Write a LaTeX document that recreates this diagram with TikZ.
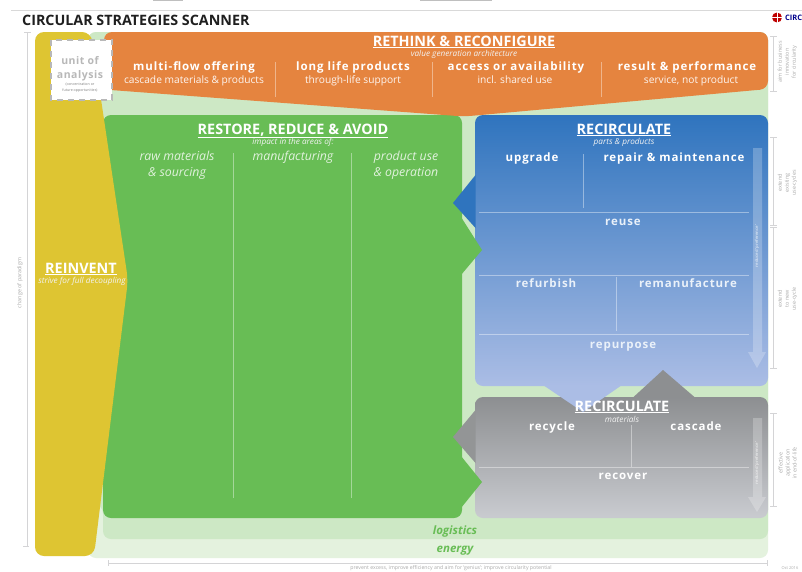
\documentclass[tikz,border=0pt]{standalone}
\usepackage{fontspec}
\setmainfont{Open Sans}
\newfontfamily\wideb[LetterSpace=8]{Open Sans}
\newfontfamily\unitb[LetterSpace=5]{Open Sans}
\usetikzlibrary{calc}
\definecolor{bgmid}{HTML}{CDE8C5}
\definecolor{bglow}{HTML}{E4F2DE}
\definecolor{yel}{HTML}{DEC532}
\definecolor{ora}{HTML}{E5843F}
\definecolor{grn}{HTML}{68BD55}
\definecolor{blutop}{HTML}{2F74BE}
\definecolor{blubot}{HTML}{ABBDE5}
\definecolor{grytop}{HTML}{8D8F91}
\definecolor{grybot}{HTML}{C9CBD0}
\definecolor{fine}{HTML}{AAAAAA}
\definecolor{rule}{HTML}{D4D4D6}
\tikzset{
  x=1pt,y=-1pt,
  txt/.style={anchor=base,inner sep=0pt,outer sep=0pt,text=white,align=center},
  head/.style={txt,font=\bfseries\fontsize{14.4}{15}\selectfont},
  item/.style={txt,font=\wideb\bfseries\fontsize{11.5}{12}\selectfont},
  sub/.style={txt,font=\fontsize{10.2}{11}\selectfont,text=white!92!ora},
  tiny/.style={txt,font=\itshape\fontsize{8.2}{9}\selectfont,text=white!90!gray},
  area/.style={txt,font=\itshape\fontsize{12.3}{13}\selectfont,text=white!80!grn},
  sep/.style={draw=white,opacity=.4,line width=.7pt},
  note/.style={anchor=center,inner sep=0pt,align=center,text=fine,font=\fontsize{5.4}{7}\selectfont,rotate=90},
  brk/.style={draw=rule,line width=1pt},
  flow/.style={fill=white,fill opacity=.24},
  flowtxt/.style={anchor=center,inner sep=0pt,text=white,opacity=.55,font=\bfseries\fontsize{4.2}{5}\selectfont,rotate=90},
  utext/.style={txt,text=black!28,font=\unitb\bfseries\fontsize{10.5}{12}\selectfont},
  belt/.style={txt,text=grn,font=\bfseries\itshape\fontsize{11.5}{12}\selectfont},
}
\begin{document}
\begin{tikzpicture}
\useasboundingbox (0,0) rectangle (802,571);
\fill[white] (0,0) rectangle (802,571);
% header remnants
\draw[black!15,line width=.7pt] (11,10.3) -- (802,10.3);
\fill[black!25] (153,0) rectangle (183,1);
\fill[black!25] (420,0) rectangle (492,1);
\node[anchor=base west,inner sep=0pt,text=black!88,font=\bfseries\fontsize{14.3}{14}\selectfont] (title) at (22,25) {CIRCULAR STRATEGIES SCANNER};
% logo
\fill[red!75!black] (777,17.5) circle (5);
\foreach \a in {0,90,180,270}{\draw[white,line width=.7pt] (777,17.5) -- ++(\a:5.5);}
\node[anchor=base west,inner sep=0pt,text=blue!55!black,font=\bfseries\fontsize{7.5}{8}\selectfont] (logo) at (785,20) {CIRC};
% background strips
\fill[bglow,rounded corners=8] (88,32) rectangle (768,558);
\fill[bgmid,rounded corners=8] (88,32) -- (768,32) -- (768,539) -- (103,539) -- (103,505) -- (88,505) -- cycle;
% green main
\fill[grn,rounded corners=8] (103,115) rectangle (462,518);
% reinvent
\fill[yel,rounded corners=9] (35,32) -- (91,32) -- (116,200) -- (128,280) -- (94,556) -- (35,556) -- cycle;
% gray box
\shade[top color=grytop,bottom color=grybot,rounded corners=8] (475,397) -- (768,397) -- (768,518) -- (475,518) -- (475,463) -- (475,410) -- cycle;
\fill[grytop!95!white] (475.5,410) -- (453,437) -- (475.5,463) -- cycle;
% blue
\shade[top color=blutop,bottom color=blubot,rounded corners=8] (475,115) rectangle (768,386);
\fill[blutop] (475.5,175) -- (453,203) -- (475.5,228) -- cycle;
\fill[blubot] (543,385) -- (583,412) -- (622,385) -- cycle;
\fill[grytop] (633,397.5) -- (663,370) -- (695,397.5) -- cycle;
% green chevrons
\fill[grn] (461,217) -- (482,250) -- (461,275) -- cycle;
\fill[grn] (461,456) -- (482,482) -- (461,508) -- cycle;
% orange
\fill[ora,rounded corners=8] (104,32) -- (768,32) -- (768,89) -- (464,116.5) -- (104,89.5) -- cycle;
% flow arrows
\fill[flow] (753,148) -- (762,148) -- (762,352) -- (766,352) -- (757,368) -- (748,352) -- (753,352) -- cycle;
\fill[flow] (753,418) -- (762,418) -- (762,497) -- (766,497) -- (757,512) -- (748,497) -- (753,497) -- cycle;
\node[flowtxt] (pref1) at (757,246) {reduced `preference'};
\node[flowtxt] (pref2) at (757,463) {reduced `preference'};
% separators
\draw[sep] (275,62) -- (275,97);
\draw[sep] (432,62) -- (432,97);
\draw[sep] (601,62) -- (601,97);
\draw[sep] (233,153) -- (233,498);
\draw[sep] (351,153) -- (351,498);
\draw[sep] (583,154) -- (583,208);
\draw[sep] (479,212) -- (749,212);
\draw[sep] (479,275) -- (749,275);
\draw[sep] (616,277) -- (616,331);
\draw[sep] (479,334) -- (749,334);
\draw[sep] (631,425) -- (631,467);
\draw[sep] (479,467) -- (749,467);
% rethink
\node[head] (rethink) at (464,46) {\underline{RETHINK \& RECONFIGURE}};
\node[tiny] (valgen) at (464,56) {value generation architecture};
\node[item] (i1) at (194,70) {multi-flow offering};
\node[sub] (s1) at (194,83) {cascade materials \& products};
\node[item] (i2) at (353,70) {long life products};
\node[sub] (s2) at (353,83) {through-life support};
\node[item] (i3) at (516,70) {access or availability};
\node[sub] (s3) at (515,83) {incl. shared use};
\node[item] (i4) at (687,70) {result \& performance};
\node[sub] (s4) at (691,83) {service, not product};
% restore
\node[head] (restore) at (293,134) {\underline{RESTORE, REDUCE \& AVOID}};
\node[tiny] (impact) at (293,144) {impact in the areas of:};
\node[area] (a1) at (177,160) {raw materials};
\node[area] (a1b) at (177,176) {\& sourcing};
\node[area] (a2) at (293,160) {manufacturing};
\node[area] (a3) at (406,160) {product use};
\node[area] (a3b) at (406,176) {\& operation};
% reinvent
\node[head] (reinvent) at (81,273) {\underline{REINVENT}};
\node[tiny] (strive) at (82,283) {strive for full decoupling};
% recirculate parts
\node[head] (rec1) at (624,134) {\underline{RECIRCULATE}};
\node[tiny] (parts) at (624,144) {parts \& products};
\node[item] (upgrade) at (532,161) {upgrade};
\node[item] (repair) at (674,161) {repair \& maintenance};
\node[item,text=white!90!blutop] (reuse) at (623,225) {reuse};
\node[item,text=white!90!blutop] (refurb) at (546,287) {refurbish};
\node[item,text=white!90!blutop] (reman) at (688,287) {remanufacture};
\node[item,text=white!90!blutop] (repurp) at (623,348) {repurpose};
% recirculate materials
\node[head] (rec2) at (622,411) {\underline{RECIRCULATE}};
\node[tiny] (mat) at (622,422) {materials};
\node[item] (recyc) at (552,430) {recycle};
\node[item] (casc) at (696,430) {cascade};
\node[item] (recov) at (623,479) {recover};
% belts
\node[belt] (logi) at (455,534) {logistics};
\node[belt] (ener) at (455,552) {energy};
% brackets
\draw[brk] (27,32) -- (27,546);
\draw[brk] (24,32) -- (31,32);
\draw[brk] (23,546) -- (29,546);
\draw[brk] (108,563) -- (767,563);
\draw[brk] (108,560) -- (108,566);
\draw[brk] (767,560) -- (767,566);
\foreach \ya/\yb in {36/91,137/225,227/368,413/506}{
  \draw[brk] (773,\ya) -- (773,\yb);
  \draw[brk] (770,\ya) -- (777,\ya);
  \draw[brk] (770,\yb) -- (777,\yb);
}
\node[note] (n1) at (787.5,62) {aim for business\\innovation\\for circularity};
\node[note] (n2) at (787.5,183) {extend\\existing\\use-cycles};
\node[note] (n3) at (787.5,299) {extend\\to new\\use-cycle};
\node[note] (n4) at (787.5,463) {effective\\application\\in end-of-life};
\node[note] (n5) at (20,283) {change of paradigm};
\node[anchor=base,inner sep=0pt,text=fine,font=\fontsize{5.2}{6}\selectfont] (n6) at (451,569) {prevent excess, improve efficiency and aim for `genius'; improve circularity potential};
\node[anchor=base,inner sep=0pt,text=fine,font=\fontsize{4}{5}\selectfont] (date) at (790,569) {Oct 2016};
% unit of analysis
\fill[white] (51,40) rectangle (112,100);
\draw[black!28,line width=2.4pt,dash pattern=on 6pt off 5pt] (51,40) rectangle (112,100);
\node[utext] (u1) at (80,64) {unit of};
\node[utext] (u2) at (80,78) {analysis};
\node[txt,text=black!50,font=\fontsize{3.6}{6}\selectfont] (u3) at (80,85.5) {(concentration or};
\node[txt,text=black!50,font=\fontsize{3.6}{6}\selectfont] (u4) at (80,91) {future opportunities)};
\end{tikzpicture}
\end{document}
